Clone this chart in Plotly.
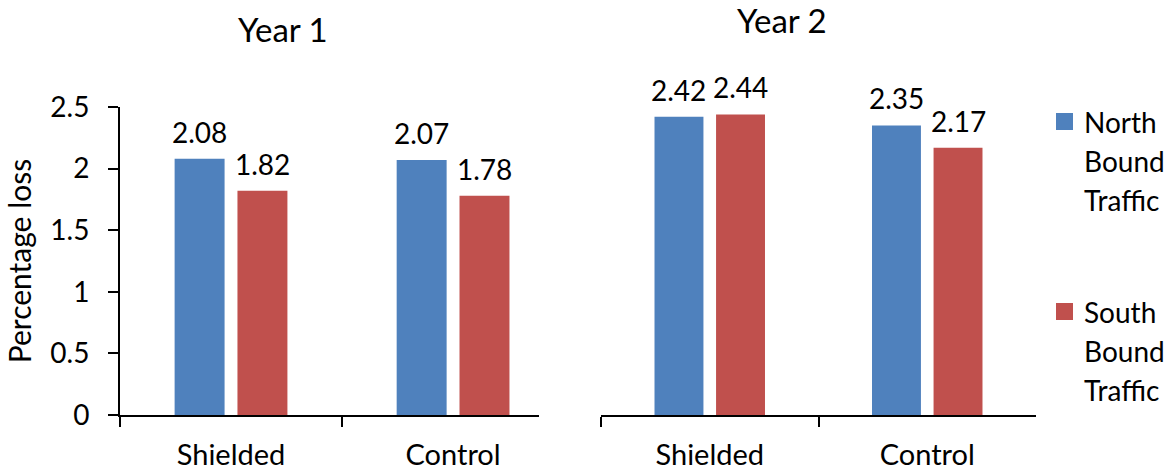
import plotly.graph_objects as go

# Percentage loss by treatment, split by traffic direction, for two years
categories = ["Shielded", "Control"]
series_names = ["North Bound Traffic", "South Bound Traffic"]
year1_north = [2.08, 2.07]
year1_south = [1.82, 1.78]
year2_north = [2.42, 2.35]
year2_south = [2.44, 2.17]
panel_titles = ["Year 1", "Year 2"]
y_ticks = [0, 0.5, 1, 1.5, 2, 2.5]

colors = ["#4F81BD", "#C0504D"]
FONT = "Lato"
W, H = 1171, 472

# bar geometry in category units (each category spans 1.0)
BAR_W = 0.225
OFFSETS = [-0.254, 0.029]


def px_x(p):
    return p / W


def px_y(p):
    return 1 - p / H


fig = go.Figure()
annotations = []

panels = [
    ("x", "y", [year1_north, year1_south]),
    ("x2", "y2", [year2_north, year2_south]),
]
for xa, ya, values in panels:
    for k, vals in enumerate(values):
        fig.add_trace(go.Bar(
            x=categories, y=vals, xaxis=xa, yaxis=ya,
            name=series_names[k], width=BAR_W, offset=OFFSETS[k],
            marker=dict(color=colors[k], line=dict(width=0)),
            showlegend=False, hoverinfo="skip",
        ))
        # value labels above each bar
        for i, v in enumerate(vals):
            annotations.append(dict(
                x=i + OFFSETS[k] + BAR_W / 2, y=v, xref=xa, yref=ya,
                text=f"{v:.2f}", showarrow=False, yanchor="bottom",
                yshift=8, font=dict(family=FONT, size=28, color="black"),
            ))

# panel titles
annotations.append(dict(x=px_x(283), y=px_y(29), xref="paper", yref="paper",
                        text=panel_titles[0], showarrow=False,
                        xanchor="center", yanchor="middle",
                        font=dict(family=FONT, size=33, color="black")))
annotations.append(dict(x=px_x(782), y=px_y(20), xref="paper", yref="paper",
                        text=panel_titles[1], showarrow=False,
                        xanchor="center", yanchor="middle",
                        font=dict(family=FONT, size=33, color="black")))

# legend: colour swatch plus one line of text per word
shapes = []
legend_tops = [113, 303]
for k, name in enumerate(series_names):
    top = legend_tops[k]
    shapes.append(dict(type="rect", xref="paper", yref="paper",
                       x0=px_x(1056), x1=px_x(1073), y0=px_y(top + 17), y1=px_y(top),
                       fillcolor=colors[k], line=dict(width=0)))
    for j, word in enumerate(name.split(" ")):
        annotations.append(dict(x=px_x(1082), y=px_y(top + 9 + 39 * j),
                                xref="paper", yref="paper", text=word,
                                showarrow=False, xanchor="left", yanchor="middle",
                                font=dict(family=FONT, size=28, color="black")))

x_common = dict(
    type="category", showline=True, linecolor="black", linewidth=2,
    ticks="outside", tickson="boundaries", ticklen=10, tickwidth=2,
    tickcolor="black", showgrid=False, zeroline=False, automargin=False,
    tickfont=dict(family=FONT, size=29, color="black"), ticklabelstandoff=13,
)
y_common = dict(range=[0, 2.5], showgrid=False, zeroline=False, automargin=False)

fig.update_layout(
    width=W, height=H, autosize=False,
    margin=dict(l=0, r=0, t=0, b=0, pad=0),
    paper_bgcolor="white", plot_bgcolor="white",
    barmode="group",
    xaxis=dict(domain=[px_x(120), px_x(539)], range=[-0.5, 1.387], **x_common),
    xaxis2=dict(domain=[px_x(601), px_x(1036)], range=[-0.5, 1.5], **x_common),
    yaxis=dict(domain=[px_y(415), px_y(107)], anchor="x",
               tickvals=y_ticks, ticktext=[f"{t:g}" for t in y_ticks],
               showline=True, linecolor="black", linewidth=2,
               ticks="outside", ticklen=10, tickwidth=2, tickcolor="black",
               tickfont=dict(family=FONT, size=28, color="black"),
               ticklabelstandoff=13,
               title=dict(text="Percentage loss", standoff=10,
                          font=dict(family=FONT, size=30, color="black")),
               **y_common),
    yaxis2=dict(domain=[px_y(415), px_y(107)], anchor="x2",
                showline=False, showticklabels=False, ticks="", **y_common),
    annotations=annotations,
    shapes=shapes,
    showlegend=False,
)

fig.write_html("out.html")
